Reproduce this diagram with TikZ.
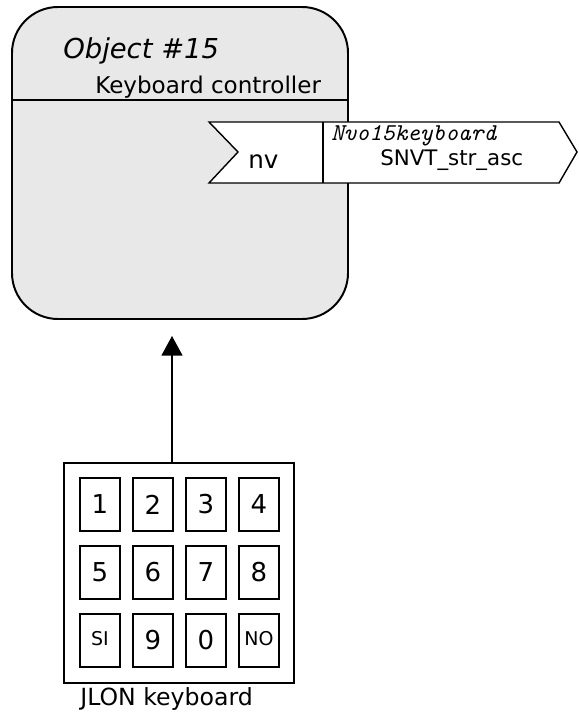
\documentclass[tikz,border=0pt]{standalone}
\usepackage{fontspec}
\setmainfont{DejaVu Sans}
\usetikzlibrary{arrows.meta,positioning}
\definecolor{objgray}{HTML}{E8E8E8}
\definecolor{ink}{HTML}{000000}
\tikzset{objbox/.style={draw=ink, fill=objgray, line width=1.4pt, rounded corners=1.15cm}, port/.style={draw=ink, fill=white, line width=1pt}, keypad/.style={draw=ink, fill=white, line width=1.2pt, minimum width=5.75cm, minimum height=5.5cm, inner sep=0pt}, keycap/.style={draw=ink, line width=1pt, minimum width=1cm, minimum height=1.325cm, inner sep=0pt, font=\fontsize{18.5}{19}\selectfont}, smallcap/.style={font=\fontsize{13.5}{14}\selectfont}, flow/.style={-{Triangle[length=14pt,width=15pt]}, line width=1pt}, lab/.style={anchor=base west, inner sep=0pt, text=ink}}

\begin{document}
\begin{tikzpicture}
\useasboundingbox (0,0) rectangle (14.475,-18.05);
% functional block
\node[objbox, minimum width=8.4cm, minimum height=7.8cm] (obj) at (4.5,-4.075) {};
\draw[line width=1pt] (obj.west |- 0,-2.5) -- (obj.east |- 0,-2.5);
\node[lab, font=\fontsize{19.5}{20}\selectfont\itshape] (objname) at (1.575,-1.475) {Object \#15};
\node[lab, font=\fontsize{16.4}{17}\selectfont] (objtitle) at (2.375,-2.333) {Keyboard controller};
% output network variable
\draw[port] (5.225,-3.05) -- (13.975,-3.05) -- (14.425,-3.8) -- (13.975,-4.575) -- (5.225,-4.575) -- (5.95,-3.8) -- cycle;
\draw[line width=1pt] (8.075,-3.05) -- (8.075,-4.575);
\node[lab, font=\fontsize{17.5}{18}\selectfont] (nv) at (6.2,-4.225) {nv};
\node[lab, font=\fontsize{17.2}{17}\selectfont\ttfamily\itshape] (nvname) at (8.275,-3.525) {Nvo15keyboard};
\node[lab, font=\fontsize{15.2}{16}\selectfont] (nvtype) at (9.5,-4.15) {SNVT\_str\_asc};
% keyboard
\node[keypad] (kbd) at (4.475,-14.325) {};
\node[keycap] (k1) at (2.5,-12.6125) {1}; \node[keycap] (k2) at (3.825,-12.6125) {2}; \node[keycap] (k3) at (5.15,-12.6125) {3}; \node[keycap] (k4) at (6.475,-12.6125) {4};
\node[keycap] (k5) at (2.5,-14.3125) {5}; \node[keycap] (k6) at (3.825,-14.3125) {6}; \node[keycap] (k7) at (5.15,-14.3125) {7}; \node[keycap] (k8) at (6.475,-14.3125) {8};
\node[keycap, smallcap] (ksi) at (2.5,-16.0125) {\raisebox{.1cm}{SI}}; \node[keycap] (k9) at (3.825,-16.0125) {9}; \node[keycap] (k0) at (5.15,-16.0125) {0}; \node[keycap, smallcap] (kno) at (6.475,-16.0125) {\raisebox{.1cm}{NO}};
\node[lab, font=\fontsize{16.8}{17}\selectfont] (kbdname) at (2.0,-17.625) {JLON keyboard};
% input from keyboard
\coordinate (entry) at (4.3,-8.4);
\draw[flow] (kbd.north -| entry) -- (entry);
\end{tikzpicture}
\end{document}
